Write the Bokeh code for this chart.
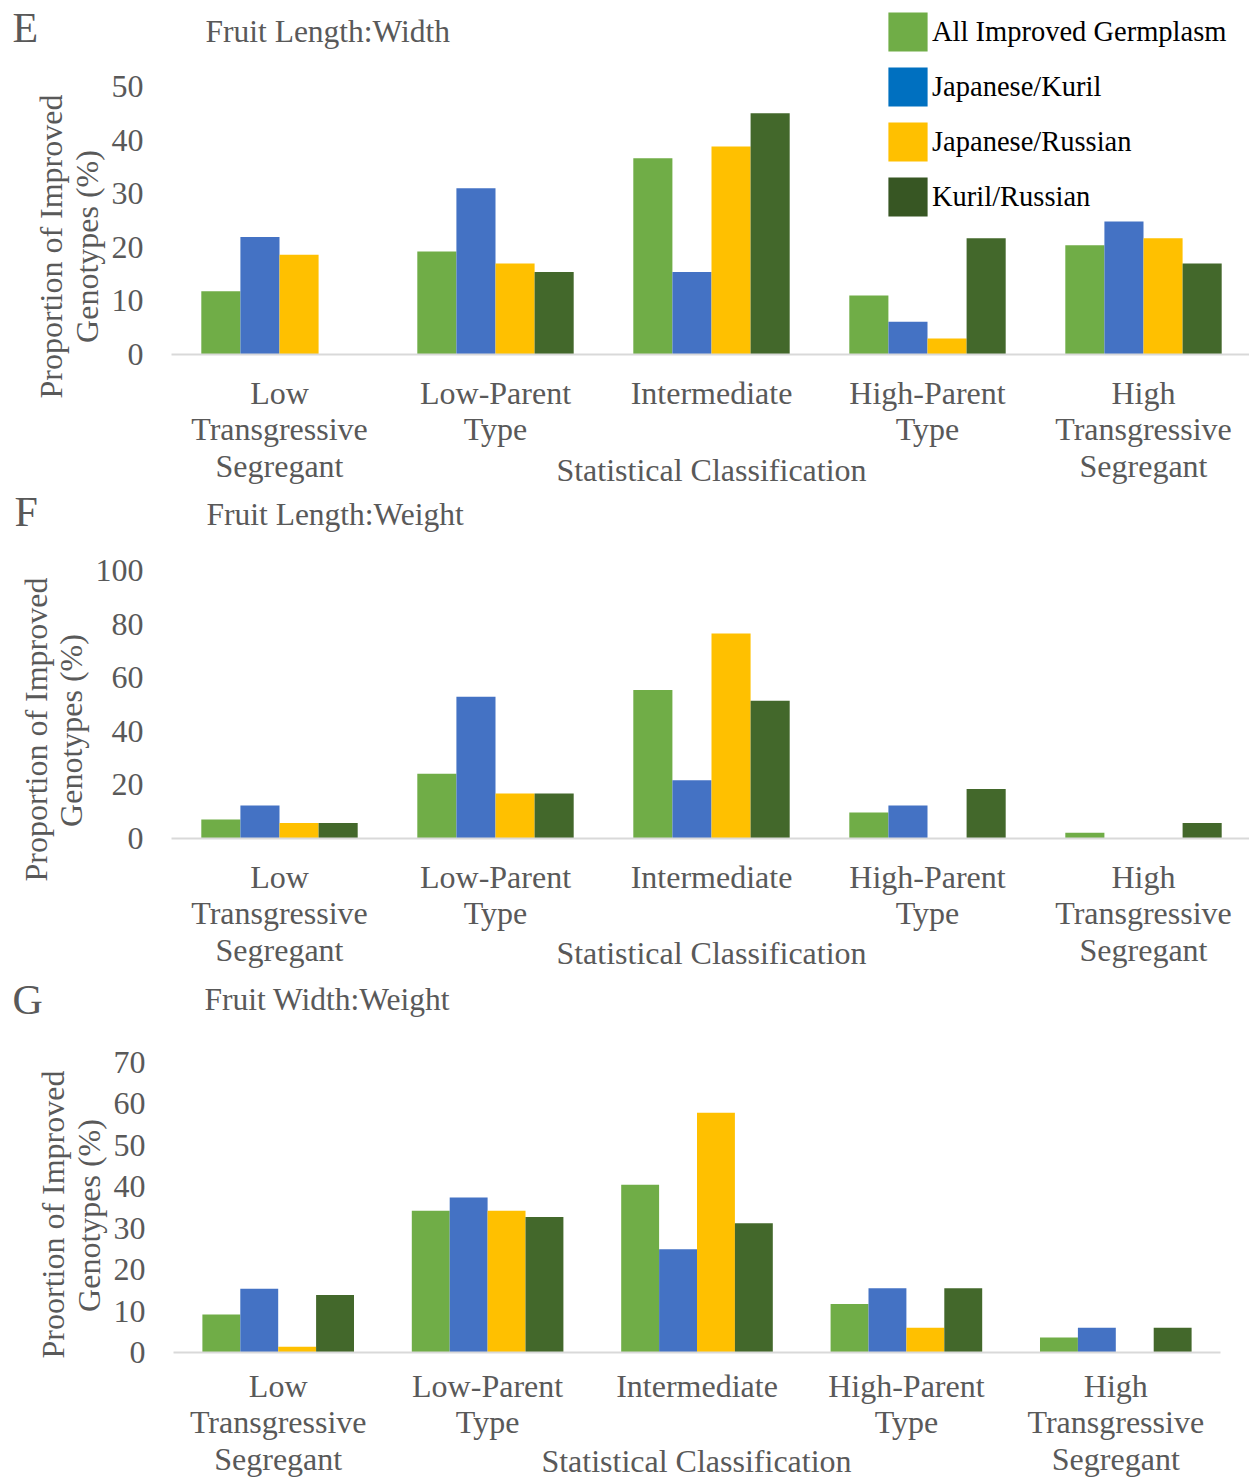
import math
from bokeh.plotting import figure
from bokeh.models import (ColumnDataSource, Range1d, Label, Legend, LegendItem, FixedTicker)
from bokeh.transform import dodge
from bokeh.layouts import column
from bokeh.embed import file_html
from bokeh.resources import INLINE

# ---------------- data ----------------
categories = ["Low\nTransgressive\nSegregant", "Low-Parent\nType", "Intermediate",
              "High-Parent\nType", "High\nTransgressive\nSegregant"]
series_names = ["All Improved Germplasm", "Japanese/Kuril", "Japanese/Russian", "Kuril/Russian"]

# Panel E: Fruit Length:Width
e_all = [11.8, 19.2, 36.6, 11.0, 20.4]
e_jk = [21.9, 31.0, 15.4, 6.1, 24.8]
e_jr = [18.6, 17.0, 38.8, 3.0, 21.7]
e_kr = [0.0, 15.4, 45.0, 21.7, 17.0]
e_ticks = [0, 10, 20, 30, 40, 50]

# Panel F: Fruit Length:Weight
f_all = [7.1, 24.2, 55.4, 9.7, 2.1]
f_jk = [12.3, 52.9, 21.7, 12.3, 0.0]
f_jr = [5.8, 16.8, 76.5, 0.0, 0.0]
f_kr = [5.8, 16.8, 51.4, 18.5, 5.8]
f_ticks = [0, 20, 40, 60, 80, 100]

# Panel G: Fruit Width:Weight
g_all = [9.2, 34.2, 40.5, 11.7, 3.6]
g_jk = [15.4, 37.4, 24.9, 15.5, 6.0]
g_jr = [1.4, 34.2, 57.9, 6.0, 0.0]
g_kr = [13.9, 32.7, 31.2, 15.5, 6.0]
g_ticks = [0, 10, 20, 30, 40, 50, 60, 70]

# ---------------- style ----------------
bar_colors = ["#70AD47", "#4472C4", "#FFC000", "#43682B"]
legend_colors = ["#70AD47", "#0070C0", "#FFC000", "#375623"]
FONT = "Liberation Serif"
GREY = "#595959"
FS = "32px"
BW = 0.181
OFFS = [-1.5 * BW, -0.5 * BW, 0.5 * BW, 1.5 * BW]
W = 1249


def panel(letter, title, ylab1, vals, ticks, top_px, fig_h, grp_left, grp_px,
          y0_px, ytop_px, xstandoff, txt, legend_px=None):
    """All *_px positions are page pixels; converted to the panel's screen units."""
    n = len(categories)
    pos = [i + 0.5 for i in range(n)]
    ymax = ticks[-1]
    y0 = y0_px - top_px
    yt = ytop_px - top_px
    k = (y0 - yt) / ymax
    bottom_px = top_px + fig_h
    p = figure(width=W, height=fig_h,
               x_range=Range1d(-grp_left / grp_px, (W - grp_left) / grp_px),
               y_range=Range1d(-(fig_h - y0) / k, ymax + yt / k),
               min_border=0, min_border_left=0, min_border_right=0,
               min_border_top=0, min_border_bottom=0,
               output_backend="svg", toolbar_location=None)
    p.title.visible = False
    src = ColumnDataSource(dict(pos=pos, s0=vals[0], s1=vals[1], s2=vals[2], s3=vals[3]))
    for i in range(4):
        p.vbar(x=dodge("pos", OFFS[i]), top=f"s{i}", width=BW,
               source=src, fill_color=bar_colors[i], line_color=None)

    p.xgrid.visible = False
    p.ygrid.visible = False
    p.outline_line_color = None
    p.background_fill_color = "white"
    p.border_fill_color = "white"

    ya = p.yaxis[0]
    ya.fixed_location = 0
    ya.ticker = FixedTicker(ticks=ticks)
    ya.axis_line_color = None
    ya.major_tick_line_color = None
    ya.minor_tick_line_color = None
    ya.major_tick_out = 0
    ya.major_tick_in = 0
    ya.minor_tick_out = 0
    ya.major_label_standoff = 28
    ya.major_label_text_font = FONT
    ya.major_label_text_font_size = FS
    ya.major_label_text_color = GREY

    xa = p.xaxis[0]
    xa.fixed_location = 0
    xa.bounds = (0, n)
    xa.ticker = FixedTicker(ticks=pos)
    xa.major_label_overrides = dict(zip(pos, categories))
    xa.axis_line_color = "#D9D9D9"
    xa.axis_line_width = 2
    xa.major_tick_line_color = None
    xa.minor_tick_line_color = None
    xa.major_tick_out = 0
    xa.major_tick_in = 0
    xa.minor_tick_out = 0
    xa.major_label_standoff = xstandoff
    xa.major_label_text_font = FONT
    xa.major_label_text_font_size = FS
    xa.major_label_text_color = GREY
    xa.major_label_text_line_height = 1.02
    xa.major_label_orientation = "horizontal"

    def lab(text, xy, size=FS, color=GREY, align="left", angle=0.0):
        p.add_layout(Label(x=xy[0], y=bottom_px - xy[1], x_units="screen", y_units="screen",
                           text=text, text_font=FONT, text_font_size=size,
                           text_color=color, text_align=align, text_baseline="middle",
                           angle=angle))

    lab(letter, txt["letter"], size="42px")
    lab(title, txt["title"], size="31.5px")
    lab("Statistical Classification", txt["xt"], align="center")
    lab(ylab1, txt["y1"], align="center", angle=math.pi / 2)
    lab("Genotypes (%)", txt["y2"], align="center", angle=math.pi / 2)

    if legend_px is not None:
        items = []
        for i in range(4):
            r = p.vbar(x=dodge("pos", OFFS[i]), top=f"s{i}", bottom=f"s{i}", width=BW,
                       source=src, fill_color=legend_colors[i], line_color=None)
            items.append(LegendItem(label=series_names[i], renderers=[r]))
        leg = Legend(items=items, location=(legend_px[0], bottom_px - legend_px[1]),
                     padding=0, margin=0, spacing=6, glyph_width=49, glyph_height=49,
                     label_standoff=0, label_text_font=FONT, label_text_font_size="28.5px",
                     label_text_color="black", border_line_color=None,
                     background_fill_alpha=0)
        p.add_layout(leg)
    return p


pE = panel("E", "Fruit Length:Width", "Proportion of Improved",
           [e_all, e_jk, e_jr, e_kr], e_ticks, 0, 487, 171, 216, 354, 86, 20,
           dict(letter=(12, 27), title=(205, 31), xt=(711, 469),
                y1=(50, 246), y2=(86, 246)), legend_px=(883, 221))
pF = panel("F", "Fruit Length:Weight", "Proportion of Improved",
           [f_all, f_jk, f_jr, f_kr], f_ticks, 487, 488, 171, 216, 838, 570, 20,
           dict(letter=(14, 511), title=(206, 514), xt=(711, 952),
                y1=(35, 729), y2=(70, 730)))
pG = panel("G", "Fruit Width:Weight", "Proortion of Improved",
           [g_all, g_jk, g_jr, g_kr], g_ticks, 975, 504, 173, 209.4, 1352, 1062, 15,
           dict(letter=(12, 999), title=(204, 999), xt=(696, 1460),
                y1=(52, 1214), y2=(88, 1215)))

layout = column(pE, pF, pG, spacing=0)
open("out.html", "w").write(file_html(layout, INLINE))
